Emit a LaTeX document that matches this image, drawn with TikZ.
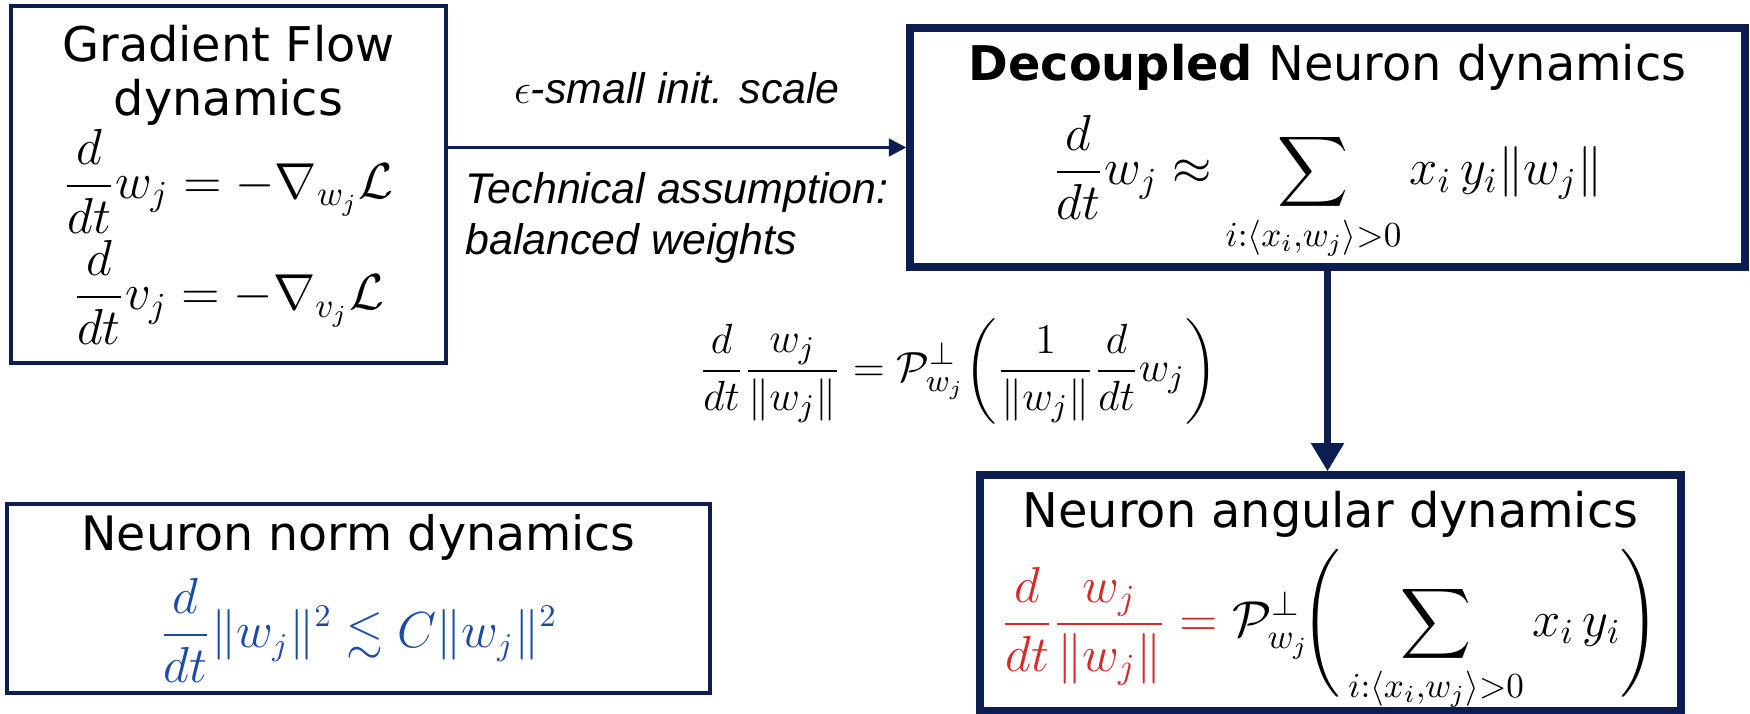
\documentclass[tikz,border=0pt]{standalone}
\usepackage{amsmath,amssymb}
\usepackage{xcolor}
\usepackage{fontspec}
\setmainfont{DejaVu Sans}
\newfontfamily\labelfont{Liberation Sans}
\usepackage{tikz}
\definecolor{diagNavy}{HTML}{0C1D52}
\definecolor{diagRed}{HTML}{D62A2A}
\definecolor{diagBlue}{HTML}{1A4BA8}
\usetikzlibrary{arrows.meta,positioning}
\newcommand{\fs}[1]{\fontsize{#1}{#1}\selectfont}

\begin{document}
\begin{tikzpicture}[
  font=\fontsize{13.6}{15.5}\selectfont,
  >=Latex,
  thinbox/.style={draw=diagNavy, line width=0.9pt, align=center, inner sep=2pt},
  thickbox/.style={draw=diagNavy, line width=2.1pt, align=center, inner sep=2pt},
  flow/.style={-{Triangle[length=5pt,width=5pt]}, line width=0.95pt, diagNavy},
  flowthick/.style={-{Triangle[length=8pt,width=9pt]}, line width=1.8pt, diagNavy},
  label/.style={font=\labelfont\itshape\fontsize{12.2}{14.5}\selectfont, text=black, align=left}
]
\useasboundingbox (0,0) rectangle (17.5,7.13);

% Boxes
\node[thinbox, minimum width=4.35cm, minimum height=3.57cm] (gf) at (2.285,5.285)
  {\fontsize{13.6}{14.5}\selectfont Gradient Flow\\ dynamics\\
   \fs{14}$\displaystyle \frac{d}{dt}w_j = -\nabla_{w_j}\mathcal{L}$\\[1pt]
   \fs{14}$\displaystyle \frac{d}{dt}v_j = -\nabla_{v_j}\mathcal{L}$};
\node[thickbox, minimum width=8.35cm, minimum height=2.39cm] (dec) at (13.275,5.655)
  {\textbf{Decoupled} Neuron dynamics\\[6pt]
   \fs{14}$\displaystyle \frac{d}{dt}w_j \approx \sum_{i:\langle x_i,w_j\rangle>0} x_i\,y_i\|w_j\|$\\[-4pt]};
\node[thinbox, minimum width=7.03cm, minimum height=1.89cm] (norm) at (3.585,1.145)
  {\fontsize{13.5}{15}\selectfont Neuron norm dynamics\\[4pt]
   \fs{13.5}\textcolor{diagBlue}{$\displaystyle \frac{d}{dt}\|w_j\|^2 \lesssim C\|w_j\|^2$}};
\node[thickbox, minimum width=7.01cm, minimum height=2.36cm] (ang) at (13.305,1.20)
  {Neuron angular dynamics\\[2pt]
   \fs{14}$\displaystyle \textcolor{diagRed}{\frac{d}{dt}\frac{w_j}{\|w_j\|}} \mathrel{\textcolor{diagRed}{=}}
    \mathcal{P}^{\perp}_{w_j}\!\Biggl(\,\sum_{i:\langle x_i,w_j\rangle>0} x_i\,y_i\Biggr)$\\[-6pt]};

% Arrows
\draw[flow] (gf.east |- dec.west) -- node[label, above=0.3cm] {$\epsilon$-small init. scale}
  node[label, below=0.12cm] {Technical assumption:\\ balanced weights} (dec.west);
\draw[flowthick] (dec.south) -- node[left=0.95cm, text=black, font=\fs{12.5}]
  {$\displaystyle \frac{d}{dt}\frac{w_j}{\|w_j\|} = \mathcal{P}^{\perp}_{w_j}\!\left(\frac{1}{\|w_j\|}\frac{d}{dt}w_j\right)$}
  (dec.south |- ang.north);

\end{tikzpicture}
\end{document}
